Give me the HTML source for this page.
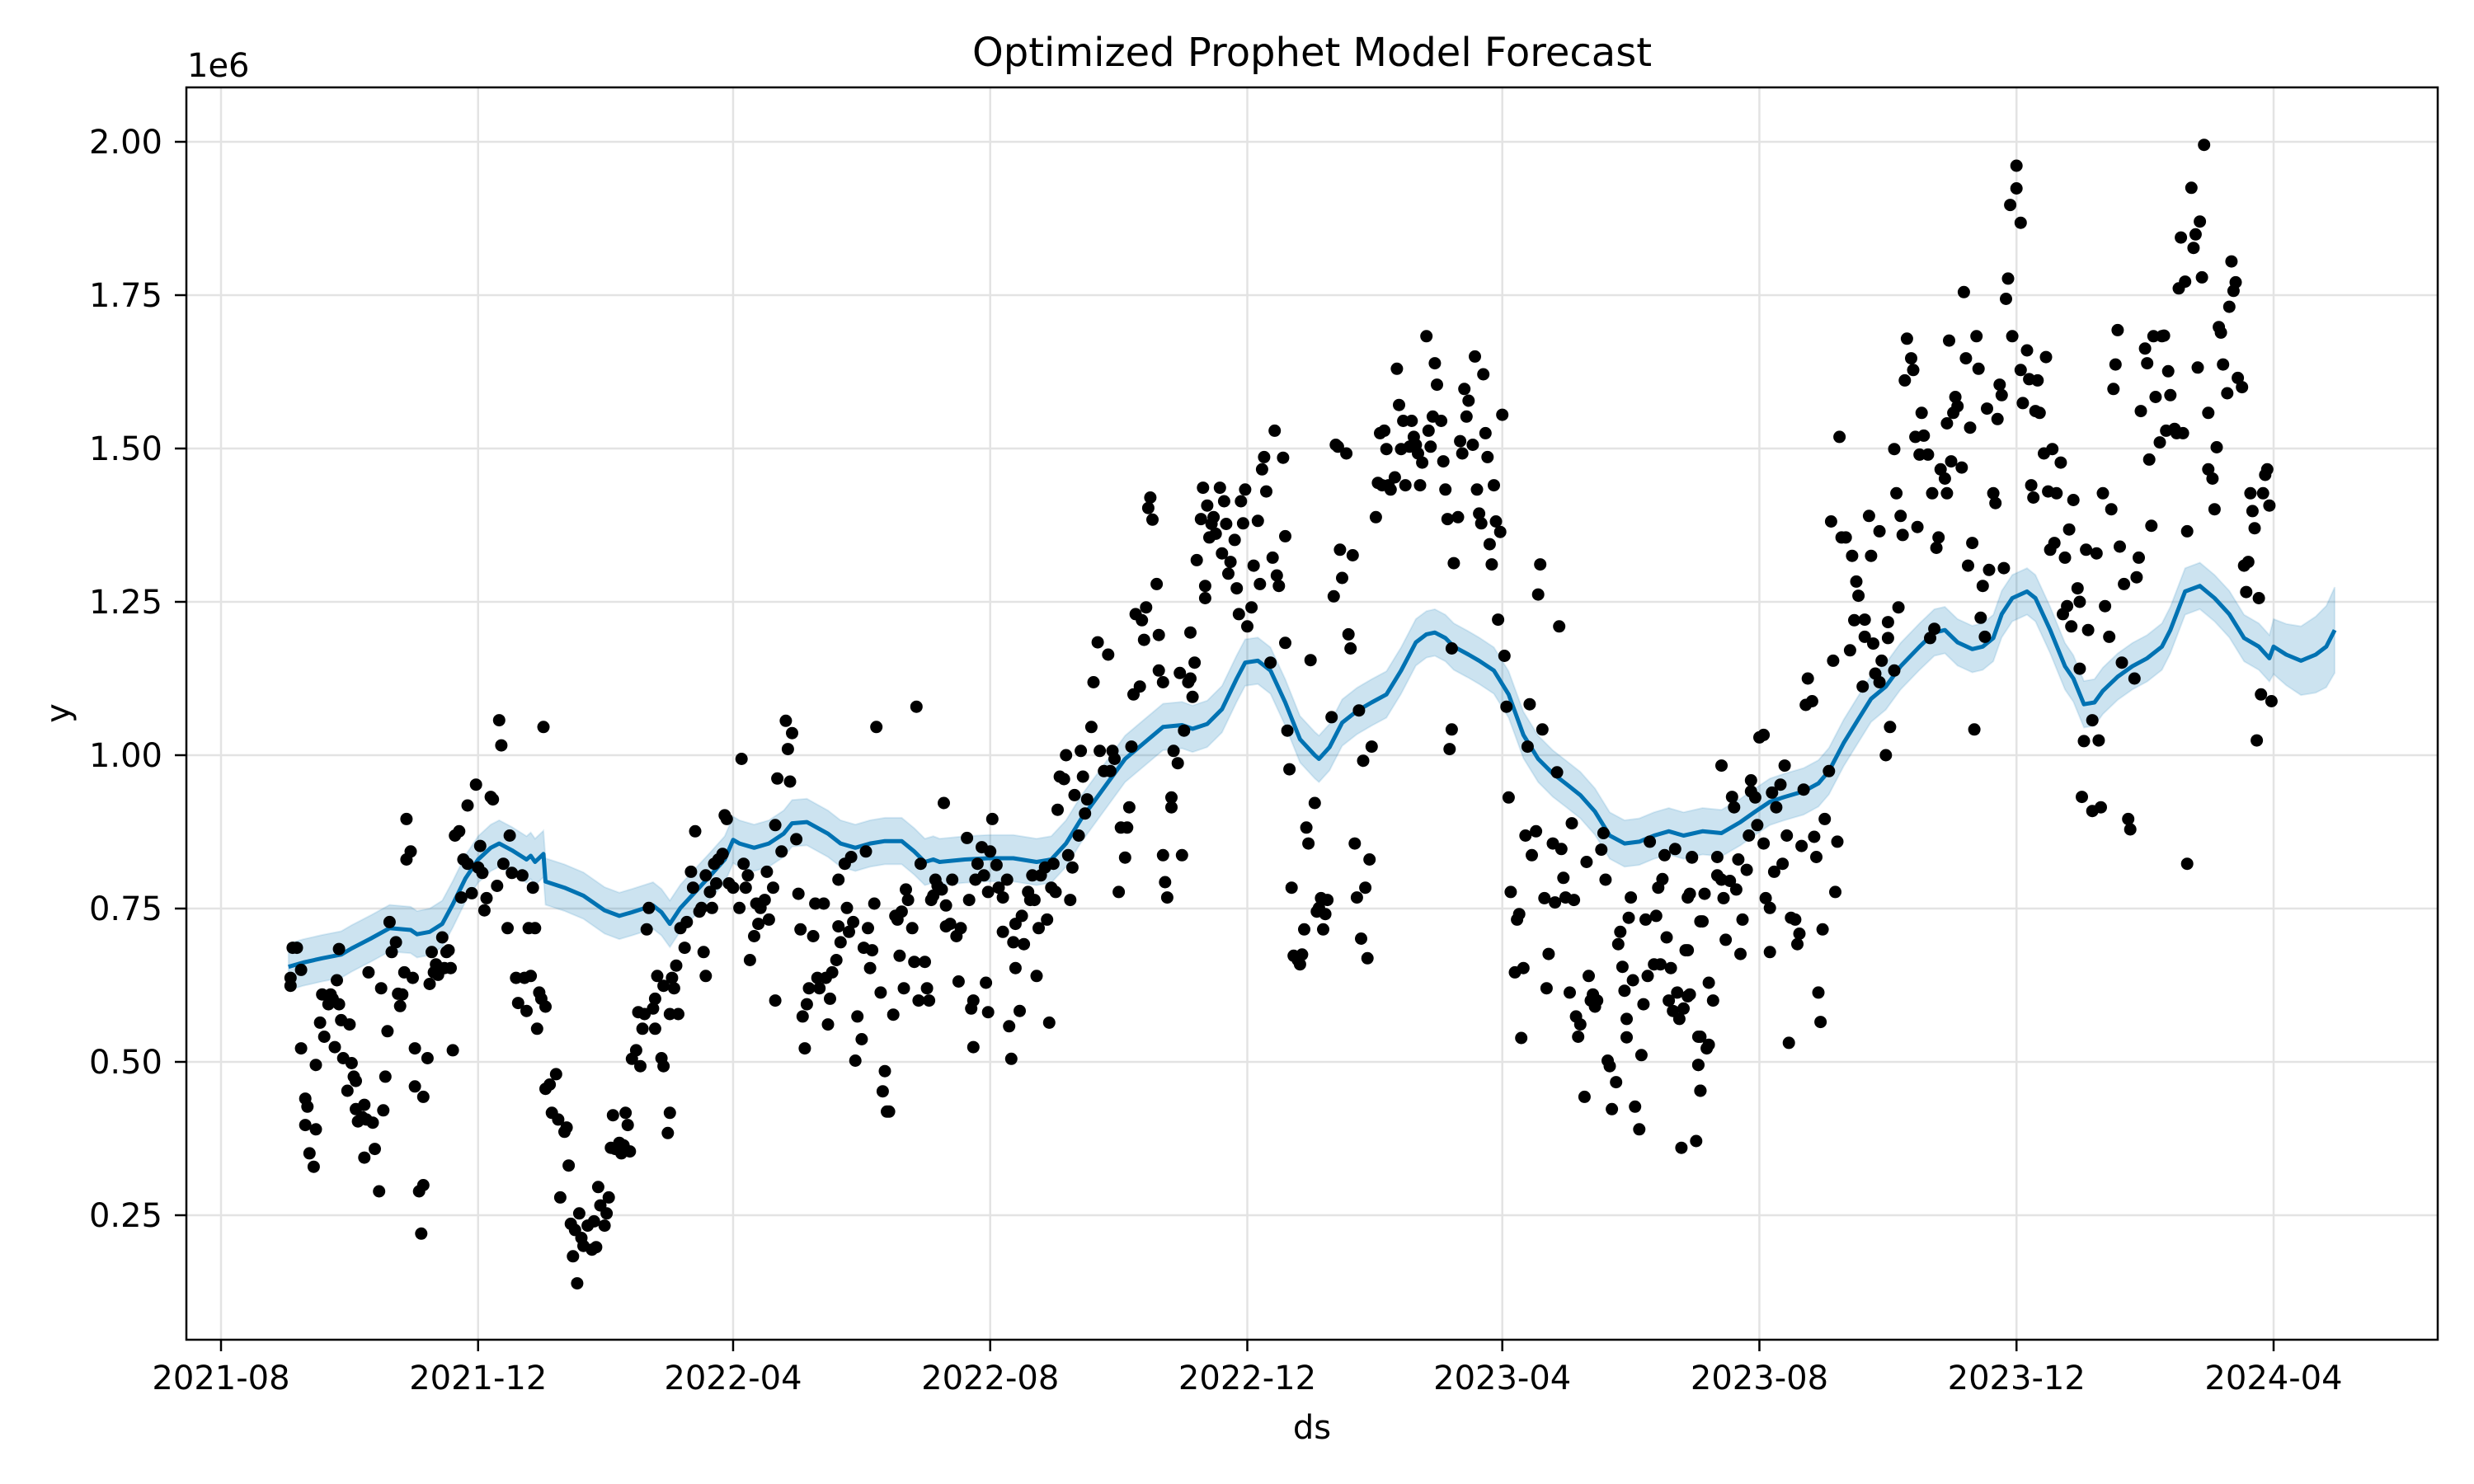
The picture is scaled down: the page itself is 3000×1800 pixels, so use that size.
<!DOCTYPE html>
<html><head><meta charset="utf-8"><title>Optimized Prophet Model Forecast</title>
<style>
html,body{margin:0;padding:0;background:#fff;}
svg{display:block;font-family:"DejaVu Sans","Liberation Sans",sans-serif;}
</style></head>
<body>
<svg id="chart" width="3000" height="1800" viewBox="0 0 3000 1800" xmlns="http://www.w3.org/2000/svg">
<rect x="0" y="0" width="3000" height="1800" fill="#fff"/>
<g id="grid"></g>
<g id="band"></g>
<g id="line"></g>
<g id="dots"></g>
<g id="axes"></g>
<text x="1591" y="80" font-size="48" text-anchor="middle">Optimized Prophet Model Forecast</text>
<text x="227" y="93" font-size="40">1e6</text>
<text x="1591" y="1745" font-size="40" text-anchor="middle">ds</text>
<text x="0" y="0" font-size="40" text-anchor="middle" transform="translate(84,865) rotate(-90)">y</text>
</svg>
<script>
// ---- data (days since 2021-08-01, values in millions) ----
const xTickLabels = ["2021-08","2021-12","2022-04","2022-08","2022-12","2023-04","2023-08","2023-12","2024-04"];
const xTickDays = [0,122,243,365,487,608,730,852,974];
const yTickValues = [0.25,0.5,0.75,1.0,1.25,1.5,1.75,2.0];
const yTickLabels = ["0.25","0.50","0.75","1.00","1.25","1.50","1.75","2.00"];

const forecastDays = [32,39,48,57,62,71,80,90,93,99,105,110,116,122,128,132,138,145,147,149,153,154,163,172,182,189,195,205,209,213,218,225,232,239,243,246,253,260,267,271,278,288,294,301,308,315,323,329,334,338,
341,353,364,376,387,394,401,408,415,422,429,438,447,456,461,468,475,482,486,492,498,505,512,519,521,526,532,539,546,553,560,567,572,576,581,585,592,597,604,611,618,625,632,638,645,652,659,666,673,680,687,694,703,
712,721,728,735,742,751,758,763,770,777,783,790,797,806,813,818,824,831,836,841,845,850,857,861,868,875,879,884,889,893,900,907,914,921,925,932,939,946,953,960,967,972,974,980,987,994,999,1003];
const forecastValues = [.655,.662,.669,.675,.685,.701,.718,.715,.708,.712,.725,.757,.799,.830,.849,.856,.845,.830,.836,.826,.839,.794,.784,.771,.747,.738,.744,.755,.744,.725,.751,.777,.803,.830,.862,.856,.849,.856,.872,.889,.891,.872,.856,.849,.856,.860,.860,.843,.826,.830,
.826,.830,.832,.832,.826,.830,.856,.895,.928,.961,.994,1.020,1.046,1.049,1.043,1.051,1.075,1.125,1.151,1.154,1.138,1.086,1.026,1.000,.994,1.013,1.053,1.072,1.086,1.099,1.138,1.184,1.197,1.200,1.191,1.177,1.164,1.154,1.138,1.099,1.033,.994,.970,.954,.935,.908,.869,.856,.859,.869,.876,.869,.876,
.873,.891,.908,.924,.932,.941,.954,.974,1.020,1.059,1.092,1.112,1.145,1.177,1.200,1.204,1.184,1.173,1.177,1.191,1.230,1.256,1.267,1.256,1.204,1.145,1.125,1.083,1.086,1.105,1.128,1.145,1.158,1.177,1.204,1.267,1.276,1.256,1.230,1.191,1.177,1.158,1.177,1.164,1.154,1.164,1.177,1.204];
const intervalDays = [32,972,974,1003];
const intervalHalfWidth = [0.038,0.038,0.045,0.07];

const obsDaysA = [33,33,34,36,38,38,40,41,40,42,44,45,45,47,48,49,51,52,53,54,55,56,56,57,58,60,61,62,63,64,64,65,67,68,68,69,70,72,73,75,76,77,78,79,80,81,83,84,85,86,87,88,88,90,91,92,92,94,95,96,96,98,99,100,101,102,103,105,106,107,108,109,110,111,113,114,115,117,117,119,121,122,123,124,125,126,128,129,131,132,133,134,136,137,138,140,141,143,144,145,146,147,148,149,150,151,152,153,154,154,156,157,159,160,161,163,164,165,166,167,168,169,170,171,172,174,176,177,178,179,180,182,183,184,185,186,187,189,190,191,192,193,194,195,197,198,199,200,201,202,203,205,206,206,207,209,210,210,212,213,213,214,215,216,217,218,220,221,223,224,225,227,228,229,230,230,232,233,234,235,236,238,239,240,241,243,246,247,248,249,250,251,253,254,255,256,258,259,260,262,263,263,264,266,268,269,270,271,273,274,275,276,277,278,279,281,282,283,284,286,287,288,289,290,292,293,293,294,296,297,298,299,300,301,302,304,305,306,307,308,309,310,311,313,314,315,316,317,319,320,321,322,323,324,325,326,328,329,330,331,332,334,335,336,337,338,339,340,342,343,344];
const obsValsA = [.624,.637,.686,.686,.650,.522,.440,.427,.397,.351,.329,.390,.495,.564,.610,.541,.594,.610,.603,.524,.633,.594,.684,.568,.506,.453,.561,.498,.476,.469,.423,.403,.410,.430,.344,.406,.646,.401,.358,.289,.620,.421,.476,.550,.728,.679,.695,.611,.591,.610,.646,.896,.830,.843,.637,.522,.460,.289,.220,.299,.443,.506,.627,.679,.646,.659,.642,.703,.653,.679,.682,.653,.519,.869,.876,.768,.830,.918,.823,.775,.952,.817,.852,.808,.747,.767,.932,.928,.787,1.057,1.016,.823,.718,.869,.808,.637,.596,.804,.637,.583,.718,.640,.784,.718,.554,.613,.603,1.046,.590,.456,.463,.417,.480,.406,.279,.386,.393,.331,.236,.183,.226,.139,.253,.213,.200,.233,.194,.240,.198,.296,.266,.233,.253,.279,.360,.413,.358,.368,.351,.364,.417,.397,.354,.505,.519,.581,.493,.554,.578,.716,.751,.587,.554,.603,.640,.506,.624,.493,.384,.417,.578,.637,.620,.657,.578,.718,.686,.728,.810,.784,.876,.745,.751,.679,.640,.804,.777,.751,.823,.791,.830,.839,.902,.896,.791,.784,.751,.994,.823,.784,.804,.666,.705,.758,.725,.751,.764,.810,.732,.784,.600,.886,.962,.843,1.056,1.010,.957,1.036,.863,.774,.716,.574,.522,.594,.620,.705,.758,.637,.620,.758,.637,.561,.603,.646,.666,.797,.721,.695,.823,.751,.712,.834,.728,.502,.574,.537,.686,.843,.718,.653,.682,.758,1.046,.613,.452,.485,.419,.419,.577,.738,.732,.673,.745,.620,.781,.764,.718,.663,1.079,.600,.823,.663,.620,.600,.764,.771,.797,.787,.781,.922,.721];

const obsDaysB = [344,346,347,349,350,351,354,355,356,357,357,358,359,361,362,363,364,365,366,364,368,369,371,371,373,374,375,376,377,377,379,380,381,383,384,385,386,387,388,389,391,392,393,394,395,396,397,398,400,401,402,403,404,405,407,408,409,410,411,413,414,416,417,419,421,422,423,424,426,427,429,430,431,432,433,434,436,437,438,439,440,441,442,444,445,445,447,447,448,449,451,451,452,454,455,456,457,459,460,461,460,462,463,465,466,467,467,468,469,470,471,472,474,475,476,477,478,479,481,482,483,484,485,486,487,489,490,492,493,494,495,496,498,499,500,501,502,504,505,505,506,507,508,509,511,512,513,514,515,516,517,519,520,521,522,523,524,525,527,528,529,530,531,532,534,535,536,537,538,539,540,541,542,543,544,545,546,548,549,550,551,552,553,554,555,557,558,559,560,561,562,564,565,566,567,568,569,570,572,573,574,575,576,577,579,580,581,582,583,584,584,585,587,588,589,590,591,592,594,595,596,597,598,599,600,601,602,603,604,605,606,607,608,609,610,611,612,614,615,616,617,618,619,620,621,622,624,625,626,627,628,629,630,632,633,634,635,636,637,638,640,641,642,643,644,645,647,648,649,650,651,652,653,655,656,657,658,659,660,662,663,664,665,666,667,667,668,669,670,671,673,674,675,676,677,678,680,681,682,683,684,685,686,687,688,689,690,691,692,693,694,695,696,697,698,700,701,701,702,702];
const obsValsB = [.755,.725,.797,.705,.631,.718,.865,.764,.587,.600,.524,.797,.823,.850,.804,.629,.777,.843,.896,.581,.821,.784,.768,.712,.797,.558,.505,.695,.653,.725,.583,.738,.692,.777,.764,.804,.764,.640,.718,.804,.817,.732,.564,.784,.823,.777,.911,.965,.961,1.000,.837,.764,.817,.935,.869,1.007,.965,.905,.928,1.046,1.119,1.184,1.007,.974,1.164,.974,1.007,.994,.777,.882,.833,.882,.915,1.014,1.099,1.230,1.112,1.220,1.188,1.241,1.403,1.420,1.384,1.279,1.196,1.138,1.119,.837,.793,.768,.931,.915,1.007,.987,1.134,.837,1.040,1.119,1.125,1.095,1.200,1.151,1.318,1.385,1.436,1.276,1.256,1.407,1.355,1.377,1.388,1.361,1.436,1.329,1.414,1.377,1.296,1.315,1.351,1.272,1.230,1.414,1.378,1.433,1.210,1.241,1.309,1.382,1.279,1.466,1.486,1.430,1.151,1.322,1.529,1.293,1.276,1.485,1.357,1.183,1.040,.977,.784,.673,.666,.659,.675,.716,.882,.856,1.155,.922,.745,.751,.767,.716,.741,.764,1.062,1.259,1.506,1.503,1.335,1.289,1.492,1.197,1.174,1.326,.856,.768,1.073,.701,.991,.784,.669,.830,1.014,1.388,1.444,1.525,1.440,1.529,1.499,1.440,1.433,1.453,1.630,1.571,1.499,1.545,1.440,1.503,1.545,1.519,1.506,1.492,1.440,1.477,1.683,1.529,1.503,1.552,1.639,1.604,1.545,1.479,1.433,1.385,1.010,1.174,1.042,1.313,1.388,1.512,1.492,1.597,1.552,1.578,1.506,1.650,1.433,1.394,1.378,1.621,1.525,1.486,1.344,1.311,1.440,1.381,1.221,1.364,1.555,1.162,1.079,.931,.777,.646,.732,.741,.539,.653,.869,1.014,1.083,.837,.876,1.262,1.311,1.042,.767,.620,.676,.856,.760,.972,1.210,.847,.800,.768,.613,.889,.764,.574,.541,.561,.443,.826,.640,.600,.610,.590,.600,.846,.873,.797,.502,.493,.423,.467,.692,.712,.655,.616,.570,.540,.735,.768,.633,.427,.390,.511,.594,.732,.640,.859,.659,.738,.784,.659,.798,.837,.703,.600,.653,.583,.847,.613,.570,.360,.587,.682,.768,.610,.834,.371,.541,.495,.453,.729];

const obsDaysC = [702,701,702,705,706,703,704,697,698,696,696,706,708,710,710,712,712,713,714,716,717,718,719,720,721,722,724,725,726,726,728,729,730,732,732,733,735,735,736,737,738,740,741,742,743,744,745,747,748,749,750,751,752,753,755,756,757,758,759,760,761,763,764,765,766,767,768,769,771,773,774,775,776,777,779,780,780,782,783,784,785,787,787,788,790,791,791,792,794,794,795,796,797,798,799,800,802,803,804,805,806,807,808,810,811,812,813,814,815,816,818,819,819,820,821,822,823,824,826,827,828,829,830,831,832,833,834,835,836,837,838,839,841,842,843,844,845,846,847,848,849,850,852,852,854,854,855,857,858,859,860,861,862,863,865,866,867,868,869,870,871,873,874,875,876,877,878,879,881,882,882,884,885,886,888,883,888,890,891,892,893,894,896,897,898,899,900,901,902,903,905,906,908,909,910,911,913,914,915,916,917,918,920,921,922,923,924,925,927,928,929,930,931,932,933,933,935,936,937,938,939,940,941,943,943,945,946,947,948,949,950,952,953,954,955,956,957,959,960,961,962,963,964,965,966,967,968,969,970,971,972,973];
const obsValsC = [.453,.495,.541,.522,.528,.729,.774,.774,.833,.682,.607,.629,.600,.804,.834,.983,.797,.767,.699,.795,.932,.915,.781,.830,.676,.732,.813,.869,.941,.959,.931,.886,1.029,1.033,.856,.767,.751,.679,.939,.810,.915,.952,.823,.983,.869,.531,.735,.732,.692,.709,.852,.944,1.082,1.125,1.088,.867,.834,.613,.565,.716,.896,.974,1.381,1.154,.777,.859,1.519,1.355,1.355,1.171,1.325,1.220,1.283,1.260,1.112,1.221,1.193,1.390,1.325,1.182,1.133,1.119,1.365,1.154,1.000,1.191,1.217,1.046,1.138,1.499,1.427,1.241,1.390,1.359,1.611,1.679,1.647,1.628,1.519,1.372,1.490,1.558,1.521,1.490,1.191,1.427,1.206,1.338,1.355,1.466,1.451,1.427,1.541,1.676,1.479,1.558,1.584,1.569,1.469,1.755,1.647,1.309,1.534,1.346,1.042,1.683,1.630,1.224,1.276,1.193,1.565,1.302,1.427,1.411,1.548,1.604,1.587,1.305,1.744,1.777,1.897,1.683,1.924,1.961,1.868,1.628,1.574,1.660,1.613,1.440,1.420,1.561,1.611,1.558,1.492,1.649,1.430,1.335,1.499,1.346,1.427,1.477,1.230,1.322,1.243,1.368,1.210,1.416,1.272,1.250,1.141,1.023,1.335,1.204,1.057,.932,.909,1.329,1.024,.915,1.427,1.243,1.193,1.401,1.597,1.637,1.693,1.340,1.151,1.279,.896,.879,1.125,1.290,1.322,1.561,1.663,1.639,1.482,1.374,1.683,1.584,1.510,1.683,1.684,1.529,1.626,1.587,1.532,1.525,1.761,1.844,1.525,1.772,1.365,.823,1.925,1.827,1.849,1.632,1.870,1.779,1.995,1.466,1.558,1.451,1.401,1.502,1.698,1.689,1.637,1.590,1.731,1.805,1.757,1.771,1.615,1.600,1.309,1.266,1.315,1.427,1.398,1.370,1.024,1.256,1.099,1.427,1.457,1.466,1.407,1.088];

// ---- axis functions ----
const PLOT = {left:226, top:106, right:2956, bottom:1625};
function xScale(day){ return 268 + day * (2757 - 268) / 974; }
function yScale(v){ return 172 + (2.0 - v) * 744; }
function halfWidthAt(day){
  for (let i = 1; i < intervalDays.length; i++) {
    if (day <= intervalDays[i]) {
      const t = (day - intervalDays[i-1]) / (intervalDays[i] - intervalDays[i-1]);
      return intervalHalfWidth[i-1] + t * (intervalHalfWidth[i] - intervalHalfWidth[i-1]);
    }
  }
  return intervalHalfWidth[intervalHalfWidth.length - 1];
}
const NS = "http://www.w3.org/2000/svg";
function mk(tag, attrs, parent){
  const e = document.createElementNS(NS, tag);
  for (const k in attrs) e.setAttribute(k, attrs[k]);
  parent.appendChild(e);
  return e;
}

// grid
const grid = document.getElementById('grid');
xTickDays.forEach(function(d, i){
  const x = xScale(d);
  const l = mk('line', {x1:x, x2:x, y1:PLOT.top, y2:PLOT.bottom, stroke:'#e3e3e3', 'stroke-width':2.5}, grid);
  
  
});
yTickValues.forEach(function(v){
  const y = yScale(v);
  const l = mk('line', {x1:PLOT.left, x2:PLOT.right, y1:y, y2:y, stroke:'#e3e3e3', 'stroke-width':2.5}, grid);
  
  
});

// band
const band = document.getElementById('band');
let up = [], lo = [];
for (let i = 0; i < forecastDays.length; i++) {
  const h = halfWidthAt(forecastDays[i]);
  up.push(xScale(forecastDays[i]).toFixed(1) + ',' + yScale(forecastValues[i] + h).toFixed(1));
  lo.unshift(xScale(forecastDays[i]).toFixed(1) + ',' + yScale(forecastValues[i] - h).toFixed(1));
}
const bp = mk('polygon', {points: up.concat(lo).join(' '), fill:'#0072B2', 'fill-opacity':0.2, stroke:'#0072B2', 'stroke-opacity':0.12, 'stroke-width':2}, band);



// line
const lineG = document.getElementById('line');
const pts = forecastDays.map(function(d, i){ return xScale(d).toFixed(1) + ',' + yScale(forecastValues[i]).toFixed(1); });
const pl = mk('polyline', {points: pts.join(' '), fill:'none', stroke:'#0072B2', 'stroke-width':5, 'stroke-linejoin':'round'}, lineG);



// dots
const dotsG = document.getElementById('dots');
const obsDays = obsDaysA.concat(obsDaysB, obsDaysC);
const obsVals = obsValsA.concat(obsValsB, obsValsC);
const n = Math.min(obsDays.length, obsVals.length);
for (let i = 0; i < n; i++) {
  const c = mk('circle', {cx: xScale(obsDays[i]).toFixed(1), cy: yScale(obsVals[i]).toFixed(1), r: 7.5, fill:'#000'}, dotsG);
  
  
}

// axes
const axes = document.getElementById('axes');
const frame = mk('rect', {x:PLOT.left, y:PLOT.top, width:PLOT.right-PLOT.left, height:PLOT.bottom-PLOT.top, fill:'none', stroke:'#000', 'stroke-width':2.5}, axes);


xTickDays.forEach(function(d, i){
  const x = xScale(d);
  const t = mk('line', {x1:x, x2:x, y1:PLOT.bottom, y2:PLOT.bottom+14, stroke:'#000', 'stroke-width':2.5}, axes);
  
  
  const lb = mk('text', {x:x, y:1685, 'font-size':40, 'text-anchor':'middle', fill:'#000'}, axes);
  lb.textContent = xTickLabels[i];
  
  
});
yTickValues.forEach(function(v, i){
  const y = yScale(v);
  const t = mk('line', {x1:PLOT.left-14, x2:PLOT.left, y1:y, y2:y, stroke:'#000', 'stroke-width':2.5}, axes);
  
  
  const lb = mk('text', {x:197, y:y+14, 'font-size':40, 'text-anchor':'end', fill:'#000'}, axes);
  lb.textContent = yTickLabels[i];
  
  
});
</script>
</body></html>
